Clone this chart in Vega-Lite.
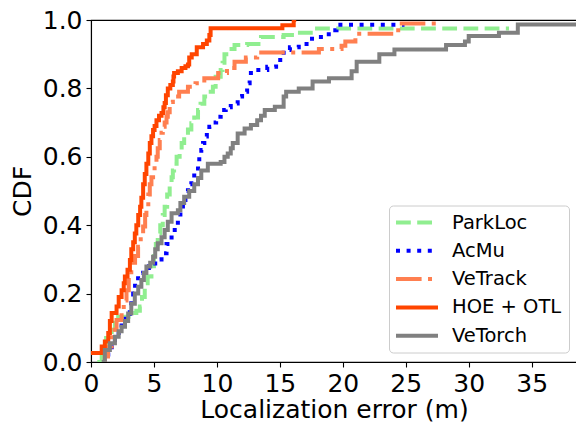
{
  "$schema": "https://vega.github.io/schema/vega-lite/v6.json",
  "width": 486,
  "height": 342,
  "autosize": {"type": "none"},
  "padding": {"left": 91, "top": 20, "right": 0, "bottom": 62},
  "background": "white",
  "data": {"values": [
    {"m":"ParkLoc","x":0.5,"y":0.0},{"m":"ParkLoc","x":0.85,"y":0.045},{"m":"ParkLoc","x":1.2,"y":0.07},{"m":"ParkLoc","x":1.64,"y":0.094},{"m":"ParkLoc","x":1.9,"y":0.115},{"m":"ParkLoc","x":2.16,"y":0.132},{"m":"ParkLoc","x":3.2,"y":0.143},{"m":"ParkLoc","x":3.6,"y":0.15},{"m":"ParkLoc","x":3.88,"y":0.162},{"m":"ParkLoc","x":4.05,"y":0.19},{"m":"ParkLoc","x":4.27,"y":0.23},{"m":"ParkLoc","x":4.5,"y":0.25},{"m":"ParkLoc","x":4.8,"y":0.28},{"m":"ParkLoc","x":5.0,"y":0.31},{"m":"ParkLoc","x":5.15,"y":0.345},{"m":"ParkLoc","x":5.3,"y":0.376},{"m":"ParkLoc","x":5.5,"y":0.4},{"m":"ParkLoc","x":5.7,"y":0.43},{"m":"ParkLoc","x":5.85,"y":0.454},{"m":"ParkLoc","x":6.05,"y":0.49},{"m":"ParkLoc","x":6.25,"y":0.52},{"m":"ParkLoc","x":6.4,"y":0.54},{"m":"ParkLoc","x":6.5,"y":0.56},{"m":"ParkLoc","x":6.6,"y":0.58},{"m":"ParkLoc","x":6.8,"y":0.6},{"m":"ParkLoc","x":7.04,"y":0.62},{"m":"ParkLoc","x":7.2,"y":0.64},{"m":"ParkLoc","x":7.4,"y":0.659},{"m":"ParkLoc","x":7.7,"y":0.68},{"m":"ParkLoc","x":7.97,"y":0.698},{"m":"ParkLoc","x":8.2,"y":0.715},{"m":"ParkLoc","x":8.5,"y":0.737},{"m":"ParkLoc","x":8.7,"y":0.755},{"m":"ParkLoc","x":9.0,"y":0.776},{"m":"ParkLoc","x":9.3,"y":0.79},{"m":"ParkLoc","x":9.68,"y":0.805},{"m":"ParkLoc","x":9.9,"y":0.834},{"m":"ParkLoc","x":10.3,"y":0.854},{"m":"ParkLoc","x":10.45,"y":0.875},{"m":"ParkLoc","x":10.6,"y":0.9},{"m":"ParkLoc","x":11.0,"y":0.915},{"m":"ParkLoc","x":11.4,"y":0.927},{"m":"ParkLoc","x":12.4,"y":0.93},{"m":"ParkLoc","x":13.5,"y":0.95},{"m":"ParkLoc","x":15.3,"y":0.956},{"m":"ParkLoc","x":16.4,"y":0.963},{"m":"ParkLoc","x":17.7,"y":0.975},{"m":"ParkLoc","x":33.2,"y":0.975},
    {"m":"AcMu","x":0.97,"y":0.0},{"m":"AcMu","x":1.1,"y":0.015},{"m":"AcMu","x":1.37,"y":0.035},{"m":"AcMu","x":1.65,"y":0.055},{"m":"AcMu","x":1.9,"y":0.074},{"m":"AcMu","x":2.2,"y":0.095},{"m":"AcMu","x":2.43,"y":0.113},{"m":"AcMu","x":2.75,"y":0.14},{"m":"AcMu","x":3.08,"y":0.162},{"m":"AcMu","x":3.2,"y":0.18},{"m":"AcMu","x":3.35,"y":0.2},{"m":"AcMu","x":3.5,"y":0.23},{"m":"AcMu","x":3.74,"y":0.26},{"m":"AcMu","x":4.14,"y":0.269},{"m":"AcMu","x":4.6,"y":0.28},{"m":"AcMu","x":5.1,"y":0.3},{"m":"AcMu","x":5.6,"y":0.318},{"m":"AcMu","x":6.0,"y":0.345},{"m":"AcMu","x":6.4,"y":0.376},{"m":"AcMu","x":6.65,"y":0.395},{"m":"AcMu","x":6.9,"y":0.415},{"m":"AcMu","x":7.1,"y":0.445},{"m":"AcMu","x":7.3,"y":0.474},{"m":"AcMu","x":7.5,"y":0.5},{"m":"AcMu","x":7.7,"y":0.52},{"m":"AcMu","x":7.97,"y":0.532},{"m":"AcMu","x":8.2,"y":0.555},{"m":"AcMu","x":8.5,"y":0.58},{"m":"AcMu","x":8.6,"y":0.6},{"m":"AcMu","x":8.76,"y":0.62},{"m":"AcMu","x":8.9,"y":0.64},{"m":"AcMu","x":9.0,"y":0.659},{"m":"AcMu","x":9.2,"y":0.675},{"m":"AcMu","x":9.4,"y":0.688},{"m":"AcMu","x":9.7,"y":0.7},{"m":"AcMu","x":9.94,"y":0.717},{"m":"AcMu","x":10.3,"y":0.737},{"m":"AcMu","x":10.7,"y":0.745},{"m":"AcMu","x":11.1,"y":0.756},{"m":"AcMu","x":11.65,"y":0.776},{"m":"AcMu","x":12.0,"y":0.79},{"m":"AcMu","x":12.4,"y":0.8},{"m":"AcMu","x":12.5,"y":0.815},{"m":"AcMu","x":12.6,"y":0.825},{"m":"AcMu","x":12.7,"y":0.854},{"m":"AcMu","x":14.0,"y":0.863},{"m":"AcMu","x":14.7,"y":0.883},{"m":"AcMu","x":15.3,"y":0.912},{"m":"AcMu","x":15.8,"y":0.92},{"m":"AcMu","x":16.5,"y":0.93},{"m":"AcMu","x":17.3,"y":0.945},{"m":"AcMu","x":18.0,"y":0.95},{"m":"AcMu","x":18.6,"y":0.958},{"m":"AcMu","x":19.2,"y":0.97},{"m":"AcMu","x":19.5,"y":0.986},{"m":"AcMu","x":24.9,"y":0.986},
    {"m":"VeTrack","x":0.9,"y":0.0},{"m":"VeTrack","x":1.1,"y":0.016},{"m":"VeTrack","x":1.35,"y":0.045},{"m":"VeTrack","x":1.64,"y":0.094},{"m":"VeTrack","x":2.03,"y":0.123},{"m":"VeTrack","x":2.43,"y":0.143},{"m":"VeTrack","x":2.6,"y":0.18},{"m":"VeTrack","x":2.82,"y":0.21},{"m":"VeTrack","x":3.0,"y":0.25},{"m":"VeTrack","x":3.2,"y":0.29},{"m":"VeTrack","x":3.5,"y":0.31},{"m":"VeTrack","x":3.74,"y":0.337},{"m":"VeTrack","x":3.95,"y":0.37},{"m":"VeTrack","x":4.14,"y":0.396},{"m":"VeTrack","x":4.3,"y":0.43},{"m":"VeTrack","x":4.4,"y":0.454},{"m":"VeTrack","x":4.55,"y":0.49},{"m":"VeTrack","x":4.67,"y":0.52},{"m":"VeTrack","x":4.8,"y":0.54},{"m":"VeTrack","x":4.93,"y":0.56},{"m":"VeTrack","x":5.05,"y":0.58},{"m":"VeTrack","x":5.2,"y":0.6},{"m":"VeTrack","x":5.3,"y":0.625},{"m":"VeTrack","x":5.46,"y":0.649},{"m":"VeTrack","x":5.6,"y":0.67},{"m":"VeTrack","x":5.7,"y":0.688},{"m":"VeTrack","x":5.85,"y":0.7},{"m":"VeTrack","x":6.0,"y":0.717},{"m":"VeTrack","x":6.1,"y":0.73},{"m":"VeTrack","x":6.25,"y":0.746},{"m":"VeTrack","x":6.35,"y":0.76},{"m":"VeTrack","x":6.5,"y":0.776},{"m":"VeTrack","x":7.0,"y":0.79},{"m":"VeTrack","x":7.7,"y":0.805},{"m":"VeTrack","x":8.3,"y":0.815},{"m":"VeTrack","x":9.0,"y":0.83},{"m":"VeTrack","x":10.1,"y":0.845},{"m":"VeTrack","x":10.8,"y":0.86},{"m":"VeTrack","x":11.4,"y":0.878},{"m":"VeTrack","x":12.3,"y":0.89},{"m":"VeTrack","x":13.2,"y":0.905},{"m":"VeTrack","x":18.1,"y":0.915},{"m":"VeTrack","x":19.9,"y":0.925},{"m":"VeTrack","x":20.2,"y":0.937},{"m":"VeTrack","x":21.0,"y":0.96},{"m":"VeTrack","x":24.4,"y":0.99},{"m":"VeTrack","x":27.5,"y":0.99},
    {"m":"HOE + OTL","x":0.0,"y":0.026},{"m":"HOE + OTL","x":0.85,"y":0.045},{"m":"HOE + OTL","x":1.1,"y":0.06},{"m":"HOE + OTL","x":1.37,"y":0.085},{"m":"HOE + OTL","x":1.5,"y":0.12},{"m":"HOE + OTL","x":1.64,"y":0.143},{"m":"HOE + OTL","x":2.03,"y":0.162},{"m":"HOE + OTL","x":2.2,"y":0.19},{"m":"HOE + OTL","x":2.43,"y":0.21},{"m":"HOE + OTL","x":2.6,"y":0.23},{"m":"HOE + OTL","x":2.69,"y":0.25},{"m":"HOE + OTL","x":2.9,"y":0.27},{"m":"HOE + OTL","x":3.09,"y":0.298},{"m":"HOE + OTL","x":3.2,"y":0.33},{"m":"HOE + OTL","x":3.35,"y":0.35},{"m":"HOE + OTL","x":3.48,"y":0.376},{"m":"HOE + OTL","x":3.6,"y":0.4},{"m":"HOE + OTL","x":3.75,"y":0.43},{"m":"HOE + OTL","x":3.9,"y":0.454},{"m":"HOE + OTL","x":4.0,"y":0.48},{"m":"HOE + OTL","x":4.14,"y":0.52},{"m":"HOE + OTL","x":4.27,"y":0.55},{"m":"HOE + OTL","x":4.4,"y":0.58},{"m":"HOE + OTL","x":4.55,"y":0.61},{"m":"HOE + OTL","x":4.67,"y":0.64},{"m":"HOE + OTL","x":4.8,"y":0.66},{"m":"HOE + OTL","x":4.93,"y":0.678},{"m":"HOE + OTL","x":5.05,"y":0.69},{"m":"HOE + OTL","x":5.2,"y":0.707},{"m":"HOE + OTL","x":5.4,"y":0.72},{"m":"HOE + OTL","x":5.6,"y":0.728},{"m":"HOE + OTL","x":5.75,"y":0.745},{"m":"HOE + OTL","x":5.85,"y":0.757},{"m":"HOE + OTL","x":5.95,"y":0.78},{"m":"HOE + OTL","x":6.1,"y":0.8},{"m":"HOE + OTL","x":6.3,"y":0.81},{"m":"HOE + OTL","x":6.5,"y":0.82},{"m":"HOE + OTL","x":6.55,"y":0.835},{"m":"HOE + OTL","x":6.6,"y":0.845},{"m":"HOE + OTL","x":6.9,"y":0.85},{"m":"HOE + OTL","x":7.2,"y":0.86},{"m":"HOE + OTL","x":7.5,"y":0.865},{"m":"HOE + OTL","x":7.7,"y":0.87},{"m":"HOE + OTL","x":7.8,"y":0.89},{"m":"HOE + OTL","x":8.0,"y":0.9},{"m":"HOE + OTL","x":8.4,"y":0.92},{"m":"HOE + OTL","x":8.9,"y":0.93},{"m":"HOE + OTL","x":9.2,"y":0.94},{"m":"HOE + OTL","x":9.4,"y":0.956},{"m":"HOE + OTL","x":9.5,"y":0.976},{"m":"HOE + OTL","x":15.2,"y":0.985},{"m":"HOE + OTL","x":16.1,"y":1.0},{"m":"HOE + OTL","x":16.3,"y":1.0},
    {"m":"VeTorch","x":0.85,"y":0.0},{"m":"VeTorch","x":1.1,"y":0.035},{"m":"VeTorch","x":1.5,"y":0.055},{"m":"VeTorch","x":1.9,"y":0.074},{"m":"VeTorch","x":2.2,"y":0.09},{"m":"VeTorch","x":2.43,"y":0.103},{"m":"VeTorch","x":2.7,"y":0.12},{"m":"VeTorch","x":2.95,"y":0.142},{"m":"VeTorch","x":3.2,"y":0.17},{"m":"VeTorch","x":3.48,"y":0.2},{"m":"VeTorch","x":3.75,"y":0.22},{"m":"VeTorch","x":4.0,"y":0.24},{"m":"VeTorch","x":4.2,"y":0.26},{"m":"VeTorch","x":4.4,"y":0.279},{"m":"VeTorch","x":4.7,"y":0.29},{"m":"VeTorch","x":4.93,"y":0.308},{"m":"VeTorch","x":5.1,"y":0.33},{"m":"VeTorch","x":5.3,"y":0.347},{"m":"VeTorch","x":5.6,"y":0.365},{"m":"VeTorch","x":5.85,"y":0.386},{"m":"VeTorch","x":6.1,"y":0.41},{"m":"VeTorch","x":6.4,"y":0.435},{"m":"VeTorch","x":6.9,"y":0.444},{"m":"VeTorch","x":7.1,"y":0.465},{"m":"VeTorch","x":7.4,"y":0.483},{"m":"VeTorch","x":7.8,"y":0.5},{"m":"VeTorch","x":8.2,"y":0.52},{"m":"VeTorch","x":8.5,"y":0.538},{"m":"VeTorch","x":8.76,"y":0.56},{"m":"VeTorch","x":9.28,"y":0.58},{"m":"VeTorch","x":10.3,"y":0.585},{"m":"VeTorch","x":10.6,"y":0.6},{"m":"VeTorch","x":10.86,"y":0.61},{"m":"VeTorch","x":11.1,"y":0.625},{"m":"VeTorch","x":11.26,"y":0.64},{"m":"VeTorch","x":11.65,"y":0.668},{"m":"VeTorch","x":12.2,"y":0.683},{"m":"VeTorch","x":12.7,"y":0.693},{"m":"VeTorch","x":13.2,"y":0.707},{"m":"VeTorch","x":13.5,"y":0.72},{"m":"VeTorch","x":13.8,"y":0.737},{"m":"VeTorch","x":14.6,"y":0.746},{"m":"VeTorch","x":15.3,"y":0.776},{"m":"VeTorch","x":15.5,"y":0.79},{"m":"VeTorch","x":16.5,"y":0.8},{"m":"VeTorch","x":17.6,"y":0.82},{"m":"VeTorch","x":18.9,"y":0.83},{"m":"VeTorch","x":20.7,"y":0.85},{"m":"VeTorch","x":21.1,"y":0.878},{"m":"VeTorch","x":22.9,"y":0.9},{"m":"VeTorch","x":24.1,"y":0.914},{"m":"VeTorch","x":28.2,"y":0.927},{"m":"VeTorch","x":29.7,"y":0.937},{"m":"VeTorch","x":30.0,"y":0.953},{"m":"VeTorch","x":32.4,"y":0.963},{"m":"VeTorch","x":33.9,"y":0.987},{"m":"VeTorch","x":38.6,"y":0.987}
  ]},
  "mark": {"type": "line", "interpolate": "step-after", "strokeWidth": 4, "strokeCap": "butt", "clip": true},
  "encoding": {
    "x": {
      "field": "x", "type": "quantitative",
      "scale": {"domain": [0, 38.6], "nice": false, "zero": false},
      "axis": {"values": [0, 5, 10, 15, 20, 25, 30, 35], "title": "Localization error (m)", "titleY": 55, "titleBaseline": "alphabetic", "labelPadding": 4, "labelFlush": false}
    },
    "y": {
      "field": "y", "type": "quantitative",
      "scale": {"domain": [0, 1], "nice": false},
      "axis": {"values": [0, 0.2, 0.4, 0.6, 0.8, 1.0], "format": ".1f", "title": "CDF", "titleX": -69, "titleY": 171, "titleAngle": 270, "titleAlign": "center", "titleBaseline": "middle", "labelPadding": 4, "labelFlush": false}
    },
    "color": {
      "field": "m", "type": "nominal",
      "scale": {"domain": ["ParkLoc", "AcMu", "VeTrack", "HOE + OTL", "VeTorch"], "range": ["#90EE90", "#0000FF", "#FF7F50", "#FF4500", "#808080"]},
      "legend": {"title": null}
    },
    "strokeDash": {
      "field": "m", "type": "nominal",
      "scale": {"domain": ["ParkLoc", "AcMu", "VeTrack", "HOE + OTL", "VeTorch"], "range": [[14.8, 6.4], [4, 6.6], [25.6, 6.4, 4, 6.4], [1, 0], [1, 0]]},
      "legend": {"title": null}
    }
  },
  "config": {
    "view": {"stroke": "black", "strokeWidth": 1.1},
    "font": "DejaVu Sans",
    "axis": {
      "grid": false,
      "domainColor": "black", "domainWidth": 1.1,
      "tickColor": "black", "tickWidth": 1.1, "tickSize": 5,
      "labelFont": "DejaVu Sans", "labelFontSize": 25, "labelColor": "black",
      "titleFont": "DejaVu Sans", "titleFontSize": 25, "titleFontWeight": "normal", "titleColor": "black"
    },
    "legend": {
      "orient": "none", "legendX": 298, "legendY": 185.5,
      "padding": 7, "strokeColor": "#cccccc", "fillColor": "rgba(255,255,255,0.8)", "cornerRadius": 4,
      "labelFont": "DejaVu Sans", "labelFontSize": 19.5, "labelColor": "black", "labelOffset": 25,
      "symbolType": "M-2.625,0H2.625", "symbolSize": 256, "symbolOffset": 11, "symbolStrokeWidth": 4, "rowPadding": 8.3
    }
  }
}
